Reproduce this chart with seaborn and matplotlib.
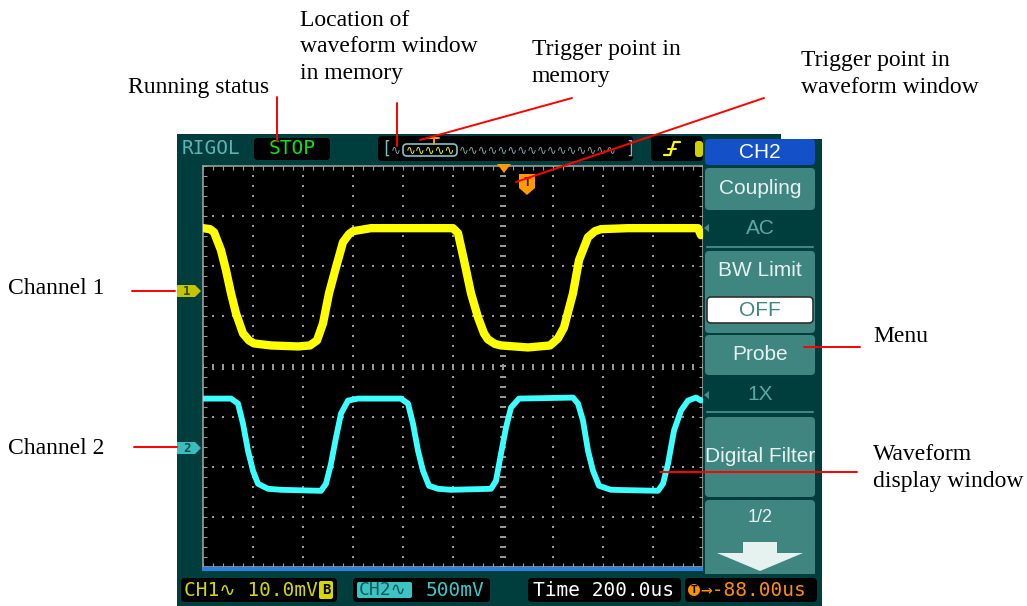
import matplotlib
matplotlib.use("Agg")
import matplotlib.pyplot as plt
import numpy as np
import seaborn as sns
from matplotlib.patches import FancyBboxPatch, Polygon, Rectangle, Circle
from matplotlib.ticker import MultipleLocator

# waveform samples: time and level in divisions
ch1_time = [-6.00, -5.86, -5.78, -5.64, -5.54, -5.44, -5.34, -5.20, -5.08, -4.98,
            -4.64, -4.10, -3.86, -3.72, -3.60, -3.48, -3.34, -3.20, -3.08, -3.00,
            -2.64, -1.00, -0.90, -0.78, -0.64, -0.50, -0.38, -0.30, -0.16, -0.04,
            0.50, 0.94, 1.10, 1.22, 1.40, 1.52, 1.70, 1.84, 1.96, 2.50,
            3.90, 3.96]
ch1_level = [2.76, 2.74, 2.68, 2.32, 1.92, 1.46, 1.06, 0.66, 0.52, 0.46,
             0.42, 0.40, 0.42, 0.52, 0.86, 1.46, 1.98, 2.48, 2.64, 2.70,
             2.76, 2.76, 2.66, 2.12, 1.46, 0.98, 0.66, 0.54, 0.45, 0.42,
             0.38, 0.42, 0.56, 0.78, 1.46, 2.12, 2.58, 2.70, 2.74, 2.76,
             2.76, 2.62]
ch2_time = [-6.00, -5.44, -5.30, -5.20, -5.10, -5.00, -4.90, -4.70, -4.44, -3.64,
            -3.54, -3.44, -3.34, -3.24, -3.10, -2.90, -2.04, -1.90, -1.80, -1.70,
            -1.60, -1.48, -1.30, -1.04, -0.24, -0.14, -0.04, 0.06, 0.16, 0.32,
            1.40, 1.50, 1.60, 1.70, 1.80, 1.92, 2.16, 3.10, 3.20, 3.30,
            3.42, 3.56, 3.70, 3.86, 3.96]
ch2_level = [-0.64, -0.64, -0.74, -1.14, -1.68, -2.08, -2.34, -2.44, -2.46, -2.48,
             -2.34, -1.94, -1.42, -0.94, -0.68, -0.64, -0.64, -0.74, -1.14, -1.68,
             -2.08, -2.38, -2.44, -2.46, -2.44, -2.28, -1.74, -1.22, -0.82, -0.64,
             -0.62, -0.74, -1.08, -1.68, -2.08, -2.38, -2.46, -2.48, -2.34, -1.94,
             -1.28, -0.88, -0.68, -0.62, -0.68]

menu_title = "CH2"
menu_buttons = ["Coupling", "BW Limit", "Probe", "Digital Filter", "1/2"]
menu_values = ["AC", "OFF", "1X"]
status = "STOP"
ch1_scale = "CH1\u223f 10.0mV"
ch2_scale = "500mV"
time_base = "Time 200.0us"
trig_offset = "\u2192-88.00us"

callouts = ["Running status", "Location of\nwaveform window\nin memory",
            "Trigger point in\nmemory", "Trigger point in\nwaveform window",
            "Channel 1", "Channel 2", "Menu", "Waveform\ndisplay window"]

W, H = 1027, 606
TEAL = "#003e3e"
BTN = "#3f8680"
BTN_TXT = "#e6f2f0"
VAL_TXT = "#5aa8a0"
GRID = "#9c9c9c"
RED = "#ff0000"
MONO = ["DejaVu Sans Mono", "DejaVu Sans"]
SANS = "Liberation Sans"
SERIF = "Liberation Serif"

sns.set_theme(style="white")
plt.rcParams["font.family"] = ["DejaVu Sans"]


def box(ax, x0, y0, x1, y1, fc, r=4, ec="none", lw=0, z=1):
    ax.add_patch(FancyBboxPatch((x0, y0), x1 - x0, y1 - y0,
                                boxstyle=f"round,pad=0,rounding_size={r}",
                                fc=fc, ec=ec, lw=lw, zorder=z))


def pixel_axes(z):
    ax = fig.add_axes([0, 0, 1, 1])
    ax.set_xlim(0, W)
    ax.set_ylim(H, 0)
    ax.axis("off")
    ax.set_zorder(z)
    ax.patch.set_alpha(0)
    return ax


fig = plt.figure(figsize=(W / 100, H / 100), dpi=100)
fig.patch.set_facecolor("white")

bg = pixel_axes(0)
bg.add_patch(Rectangle((177, 134), 645, H - 134, fc=TEAL, ec="none"))
bg.add_patch(Rectangle((781, 128), 45, 11, fc="white", ec="none"))

# waveform window
scope = fig.add_axes([203 / W, (H - 567) / H, 500 / W, 401 / H])
scope.set_zorder(1)
scope.set_facecolor("black")
scope.set_xlim(-6, 4)
scope.set_ylim(-4, 4)
for s in scope.spines.values():
    s.set_color(GRID)
    s.set_linewidth(1.2)
scope.xaxis.set_major_locator(MultipleLocator(1))
scope.xaxis.set_minor_locator(MultipleLocator(0.2))
scope.yaxis.set_major_locator(MultipleLocator(1))
scope.yaxis.set_minor_locator(MultipleLocator(0.2))
scope.tick_params(which="both", direction="in", length=3, width=0.8, color=GRID,
                  top=True, right=True, bottom=True, left=True,
                  labelbottom=False, labelleft=False)

steps_y = np.arange(-4, 4.001, 0.2)
steps_x = np.arange(-6, 4.001, 0.2)
for gx in [-5, -4, -3, -2, -1, 1, 2, 3]:
    scope.scatter(np.full_like(steps_y, gx), steps_y, s=2.2, marker="s",
                  color=GRID, linewidths=0, zorder=1)
for gy in [-3, -2, -1, 1, 2, 3]:
    scope.scatter(steps_x, np.full_like(steps_x, gy), s=2.2, marker="s",
                  color=GRID, linewidths=0, zorder=1)
scope.plot(np.zeros_like(steps_y), steps_y, ls="none", marker="_", ms=4.5,
           mew=1.4, color=GRID, zorder=1)
scope.plot(steps_x, np.zeros_like(steps_x), ls="none", marker="|", ms=4.5,
           mew=1.4, color=GRID, zorder=1)

sns.lineplot(x=ch1_time, y=ch1_level, ax=scope, color="#ffff00", linewidth=6.0,
             estimator=None, sort=False, zorder=3)
sns.lineplot(x=ch2_time, y=ch2_level, ax=scope, color="#3cffff", linewidth=4.2,
             estimator=None, sort=False, zorder=3)

ov = pixel_axes(3)

# top status bar
ov.text(182, 149, "RIGOL", family=MONO, fontsize=14, color="#5ab4b4",
        ha="left", va="center")
box(ov, 254, 138, 330, 160, "black")
ov.text(292, 149, status, family=MONO, fontsize=14, color="#12e012",
        ha="center", va="center", zorder=2)
box(ov, 378, 136, 633, 161, "black")
ov.text(381, 149, "[", family=MONO, fontsize=12, color="#7fbcbc",
        ha="left", va="center", zorder=2)
ov.text(625, 149, "]", family=MONO, fontsize=12, color="#7fbcbc",
        ha="left", va="center", zorder=2)
ov.text(391, 150, "\u223f", family=MONO, fontsize=8.5, color="#8aa8a8",
        ha="left", va="center", zorder=2)
ov.text(459, 150, "\u223f" * 16, family=MONO, fontsize=8.5, color="#8aa8a8",
        ha="left", va="center", zorder=2)
box(ov, 403, 144, 457, 156, "black", r=4, ec="#80c4c4", lw=1.2, z=3)
ov.text(430, 150, "\u223f" * 5, family=MONO, fontsize=8.5, color="#ffff00",
        ha="center", va="center", zorder=4)
ov.plot([434, 434], [138, 144], color="#ff9a00", lw=1.4, zorder=4)
ov.plot([429, 439], [138, 138], color="#ff9a00", lw=1.4, zorder=4)
box(ov, 651, 136, 703, 161, "black")
ov.plot([664, 670, 674, 680], [155, 155, 142, 142], color="#ffff00", lw=1.6, zorder=3)
ov.plot([668, 676], [149, 149], color="#ffff00", lw=1.4, zorder=3)
box(ov, 695, 141, 703, 157, "#d0d000", r=3, z=3)

# trigger markers on the window
ov.add_patch(Polygon([(497, 164), (511, 164), (504, 173)], fc="#ff9a00", ec="none"))
ov.add_patch(Polygon([(519, 174), (535, 174), (535, 188), (527, 195), (519, 188)],
                     fc="#ff9a00", ec="none"))
ov.text(527, 183, "T", family=MONO, fontsize=9, weight="bold", color="#3a2000",
        ha="center", va="center")

# channel markers
ov.add_patch(Polygon([(177, 285), (195, 285), (201, 291), (195, 297), (177, 297)],
                     fc="#c4c400", ec="none"))
ov.text(187, 291.5, "1", family=MONO, fontsize=9, weight="bold", color="#3a4a00",
        ha="center", va="center")
ov.add_patch(Polygon([(177, 442), (195, 442), (201, 448), (195, 454), (177, 454)],
                     fc="#3cbcbc", ec="none"))
ov.text(187, 448.5, "2", family=MONO, fontsize=9, weight="bold", color="#0a4a4a",
        ha="center", va="center")

# menu column
ov.add_patch(Rectangle((703, 139), 119, H - 139, fc=TEAL, ec="none"))
box(ov, 705, 139, 815, 165, "#1450c8")
ov.text(760, 152, menu_title, family=SANS, fontsize=15, color="white",
        ha="center", va="center", zorder=2)
box(ov, 705, 168, 815, 210, BTN)
ov.text(760, 189, menu_buttons[0], family=SANS, fontsize=15, color=BTN_TXT,
        ha="center", va="center", zorder=2)
ov.text(760, 228, menu_values[0], family=SANS, fontsize=15, color=VAL_TXT,
        ha="center", va="center")
ov.add_patch(Polygon([(704, 228), (709, 224), (709, 232)], fc="#4f8a86", ec="none"))
ov.plot([707, 813], [247, 247], color=BTN, lw=1.5)
box(ov, 705, 251, 815, 333, BTN)
ov.text(760, 271, menu_buttons[1], family=SANS, fontsize=15, color=BTN_TXT,
        ha="center", va="center", zorder=2)
box(ov, 707, 297, 813, 323, "white", r=4, ec="#303030", lw=1.2, z=2)
ov.text(760, 310, menu_values[1], family=SANS, fontsize=15, color=BTN,
        ha="center", va="center", zorder=3)
box(ov, 705, 335, 815, 375, BTN)
ov.text(760, 354, menu_buttons[2], family=SANS, fontsize=15, color=BTN_TXT,
        ha="center", va="center", zorder=2)
ov.text(760, 395, menu_values[2], family=SANS, fontsize=15, color=VAL_TXT,
        ha="center", va="center")
ov.add_patch(Polygon([(704, 395), (709, 391), (709, 399)], fc="#4f8a86", ec="none"))
ov.plot([707, 813], [412, 412], color=BTN, lw=1.5)
box(ov, 705, 417, 815, 497, BTN)
ov.text(760, 457, menu_buttons[3], family=SANS, fontsize=15, color=BTN_TXT,
        ha="center", va="center", zorder=2)
box(ov, 705, 500, 815, 580, BTN)
ov.text(760, 518, menu_buttons[4], family=SANS, fontsize=13, color=BTN_TXT,
        ha="center", va="center", zorder=2)
ov.add_patch(Rectangle((743, 542), 34, 11, fc=BTN_TXT, ec="none", zorder=2))
ov.add_patch(Polygon([(717, 553), (803, 553), (760, 571)], fc=BTN_TXT, ec="none",
                     zorder=2))

# bottom status bar
ov.add_patch(Rectangle((177, 574), 645, H - 574, fc=TEAL, ec="none"))
ov.add_patch(Rectangle((202, 567), 501, 4, fc="#2a82e0", ec="none"))
box(ov, 181, 578, 337, 602, "black")
ov.text(184, 590, ch1_scale, family=MONO, fontsize=14, color="#d6d600",
        ha="left", va="center", zorder=2)
box(ov, 319, 581, 333, 599, "#d6d600", r=2, z=2)
ov.text(326, 590, "B", family=MONO, fontsize=10, weight="bold", color="black",
        ha="center", va="center", zorder=3)
box(ov, 353, 578, 490, 602, "black")
box(ov, 357, 582, 412, 598, "#3cc4c4", r=2, z=2)
ov.text(359, 590, "CH2\u223f", family=MONO, fontsize=13, color="#0c5858",
        ha="left", va="center", zorder=3)
ov.text(426, 590, ch2_scale, family=MONO, fontsize=14, color="#3cc8c8",
        ha="left", va="center", zorder=2)
box(ov, 528, 578, 681, 602, "black")
ov.text(533, 590, time_base, family=MONO, fontsize=14, color="white",
        ha="left", va="center", zorder=2)
box(ov, 685, 578, 817, 602, "black")
ov.add_patch(Circle((694, 590), 6, fc="#ff9000", ec="none", zorder=2))
ov.text(694, 590, "T", family=MONO, fontsize=8, weight="bold", color="black",
        ha="center", va="center", zorder=3)
ov.text(700, 590, trig_offset, family=MONO, fontsize=14, color="#ff9000",
        ha="left", va="center", zorder=2)

# callout labels and leader lines
label_pos = [(128, 88), (300, 47), (532, 63), (801, 74), (8, 289), (8, 449),
             (873, 337), (873, 468)]
for text, (lx, ly) in zip(callouts, label_pos):
    ov.text(lx, ly, text, family=SERIF, fontsize=17, color="black",
            ha="left", va="center", linespacing=1.37, zorder=5)

leaders = [((277, 97), (277, 141)), ((397, 103), (397, 146)),
           ((572, 98), (420, 140)), ((764, 98), (516, 182)),
           ((132, 291), (175, 291)), ((134, 447), (177, 447)),
           ((804, 347), (860, 347)), ((660, 472), (857, 472))]
for (x0, y0), (x1, y1) in leaders:
    ov.plot([x0, x1], [y0, y1], color=RED, lw=1.4, zorder=6)

fig.savefig("out.png", dpi=100)
